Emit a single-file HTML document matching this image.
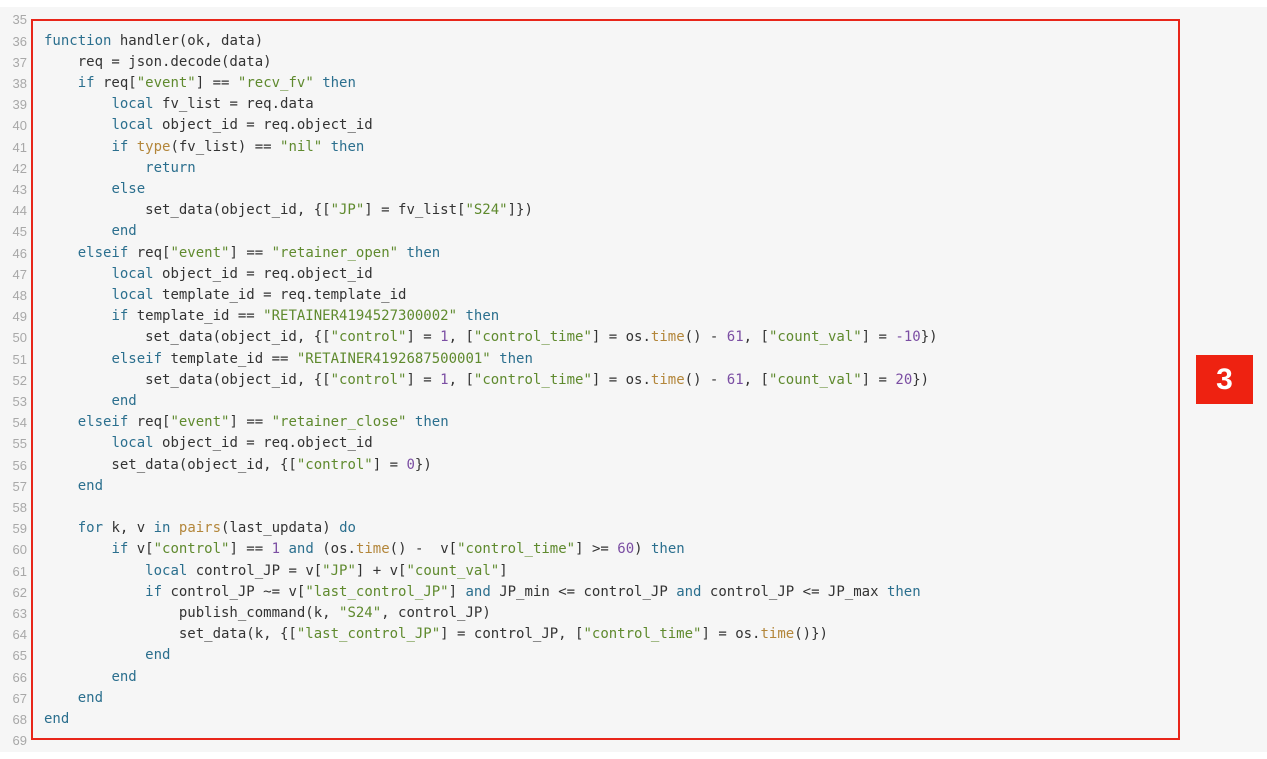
<!DOCTYPE html>
<html><head><meta charset="utf-8"><style>
html,body{margin:0;padding:0;background:#fff;width:1267px;height:759px;overflow:hidden;position:relative}
.bg{position:absolute;left:0;top:7px;width:1267px;height:745px;background:#f6f6f6}
.box{position:absolute;left:31px;top:19px;width:1145px;height:717px;border:2px solid #e8261a}
.nums{position:absolute;left:0;top:9.4px;width:27px;text-align:right;font:13px/21.2px "Liberation Sans",sans-serif;color:#a8a8a8;margin:0}
pre{position:absolute;left:44px;top:9.4px;margin:0;font:14px/21.2px "DejaVu Sans Mono","Liberation Mono",monospace;color:#333}
.k{color:#2b6f8e}.s{color:#5f8a2e}.f{color:#b3863a}.n{color:#7b4ea3}
.badge{position:absolute;left:1196px;top:355px;width:57px;height:49px;background:#ee2211;color:#fff;font:bold 30px/49px "Liberation Sans",sans-serif;text-align:center}
</style></head><body>
<div class="bg"></div>
<div class="box"></div>
<pre class="nums">35
36
37
38
39
40
41
42
43
44
45
46
47
48
49
50
51
52
53
54
55
56
57
58
59
60
61
62
63
64
65
66
67
68
69</pre>
<pre>&#8203;
<span class="k">function</span> handler(ok, data)
    req = json.decode(data)
    <span class="k">if</span> req[<span class="s">"event"</span>] == <span class="s">"recv_fv"</span> <span class="k">then</span>
        <span class="k">local</span> fv_list = req.data
        <span class="k">local</span> object_id = req.object_id
        <span class="k">if</span> <span class="f">type</span>(fv_list) == <span class="s">"nil"</span> <span class="k">then</span>
            <span class="k">return</span>
        <span class="k">else</span>
            set_data(object_id, {[<span class="s">"JP"</span>] = fv_list[<span class="s">"S24"</span>]})
        <span class="k">end</span>
    <span class="k">elseif</span> req[<span class="s">"event"</span>] == <span class="s">"retainer_open"</span> <span class="k">then</span>
        <span class="k">local</span> object_id = req.object_id
        <span class="k">local</span> template_id = req.template_id
        <span class="k">if</span> template_id == <span class="s">"RETAINER4194527300002"</span> <span class="k">then</span>
            set_data(object_id, {[<span class="s">"control"</span>] = <span class="n">1</span>, [<span class="s">"control_time"</span>] = os.<span class="f">time</span>() - <span class="n">61</span>, [<span class="s">"count_val"</span>] = <span class="n">-10</span>})
        <span class="k">elseif</span> template_id == <span class="s">"RETAINER4192687500001"</span> <span class="k">then</span>
            set_data(object_id, {[<span class="s">"control"</span>] = <span class="n">1</span>, [<span class="s">"control_time"</span>] = os.<span class="f">time</span>() - <span class="n">61</span>, [<span class="s">"count_val"</span>] = <span class="n">20</span>})
        <span class="k">end</span>
    <span class="k">elseif</span> req[<span class="s">"event"</span>] == <span class="s">"retainer_close"</span> <span class="k">then</span>
        <span class="k">local</span> object_id = req.object_id
        set_data(object_id, {[<span class="s">"control"</span>] = <span class="n">0</span>})
    <span class="k">end</span>

    <span class="k">for</span> k, v <span class="k">in</span> <span class="f">pairs</span>(last_updata) <span class="k">do</span>
        <span class="k">if</span> v[<span class="s">"control"</span>] == <span class="n">1</span> <span class="k">and</span> (os.<span class="f">time</span>() -  v[<span class="s">"control_time"</span>] &gt;= <span class="n">60</span>) <span class="k">then</span>
            <span class="k">local</span> control_JP = v[<span class="s">"JP"</span>] + v[<span class="s">"count_val"</span>]
            <span class="k">if</span> control_JP ~= v[<span class="s">"last_control_JP"</span>] <span class="k">and</span> JP_min &lt;= control_JP <span class="k">and</span> control_JP &lt;= JP_max <span class="k">then</span>
                publish_command(k, <span class="s">"S24"</span>, control_JP)
                set_data(k, {[<span class="s">"last_control_JP"</span>] = control_JP, [<span class="s">"control_time"</span>] = os.<span class="f">time</span>()})
            <span class="k">end</span>
        <span class="k">end</span>
    <span class="k">end</span>
<span class="k">end</span>
</pre>
<div class="badge">3</div>
</body></html>
